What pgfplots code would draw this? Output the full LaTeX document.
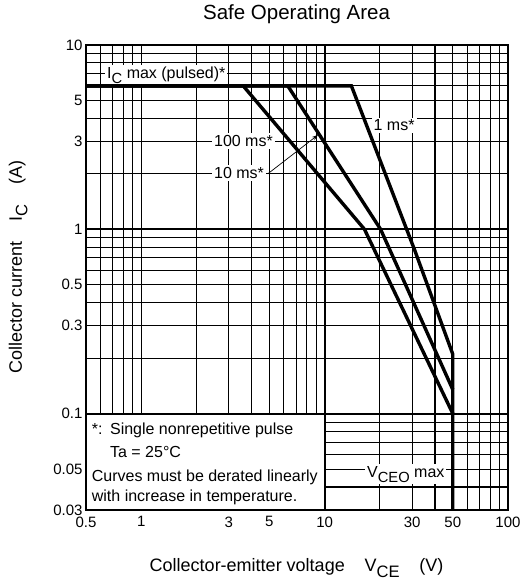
\documentclass[border=0pt]{standalone}
\usepackage{pgfplots}
\pgfplotsset{compat=1.18}
\usepackage{graphicx}
\usepackage{fontspec}
\setmainfont{Liberation Sans}
\usetikzlibrary{arrows.meta}

% lowered, slightly smaller subscript as in the data sheet
\newcommand\sub[1]{\raisebox{-0.3em}{\scalebox{0.92}{#1}}}

\begin{document}
\begin{tikzpicture}
  \begin{axis}[
      at={(0,0)}, anchor=south west,
      scale only axis,
      width=422pt, height=465pt,
      xmode=log, ymode=log,
      xmin=0.5, xmax=100, ymin=0.03, ymax=10,
      xtick={0.5,0.6,0.7,0.8,0.9,1,2,3,4,5,6,7,8,9,10,20,30,40,50,60,70,80,90,100},
      xticklabels={0.5,,,,,1,,3,,5,,,,,10,,30,,50,,,,,100},
      ytick={0.03,0.04,0.05,0.06,0.07,0.08,0.09,0.1,0.2,0.3,0.4,0.5,0.6,0.7,0.8,0.9,1,2,3,4,5,6,7,8,9,10},
      yticklabels={0.03,,0.05,,,,,0.1,,0.3,,0.5,,,,,1,,3,,5,,,,,10},
      extra x ticks={10},
      extra y ticks={0.1,1},
      extra x tick labels={},
      extra y tick labels={},
      extra tick style={grid style={black, line width=1.9pt}},
      major tick length=0pt,
      grid=major,
      grid style={black, line width=1.1pt},
      axis line style={line width=1.9pt},
      ticklabel style={font=\fontsize{15}{17}\selectfont},
      xticklabel style={yshift=-3pt},
      /pgf/number format/assume math mode=true,
      title={Safe Operating Area},
      title style={at={(axis description cs:0.499,1.043)}, anchor=base,
        font=\fontsize{20.5}{24}\selectfont},
      xlabel={Collector-emitter voltage\hspace{1.1em}V\sub{CE}\hspace{1.1em}(V)},
      xlabel style={at={(axis description cs:0.499,-0.1327)}, anchor=base,
        font=\fontsize{18}{20}\selectfont},
      ylabel={Collector current\hspace{1.1em}I\sub{C}\hspace{1.1em}(A)},
      ylabel style={at={(axis description cs:-0.152,0.5226)}, anchor=base,
        rotate=0, font=\fontsize{18}{20}\selectfont},
    ]
    % note box in the lower left corner
    \filldraw[fill=white, draw=black, line width=1.9pt]
      (axis cs:0.5,0.03) rectangle (axis cs:10,0.1);
    \begin{scope}[every node/.style={anchor=base west, inner sep=0pt,
        font=\fontsize{16}{18}\selectfont}]
      \node at (axis cs:0.537,0.0766) {*:};
      \node at (axis cs:0.675,0.0766) {Single nonrepetitive pulse};
      \node at (axis cs:0.675,0.0581) {Ta = 25°C};
      \node at (axis cs:0.537,0.0427) {Curves must be derated linearly};
      \node at (axis cs:0.537,0.0333) {with increase in temperature.};
    \end{scope}

    % curve labels
    \begin{scope}[every node/.style={anchor=base west, fill=white, inner sep=2pt,
        font=\fontsize{16}{18}\selectfont}]
      \node at (axis cs:0.635,6.59) {I\sub{C} max (pulsed)*};
      \node at (axis cs:2.43,2.81) {100 ms*};
      \node at (axis cs:2.43,1.89) {10 ms*};
      \node at (axis cs:18.0,3.42) {1 ms*};
      \node at (axis cs:16.6,0.0451) {V\sub{CEO} max};
    \end{scope}

    % 1 ms
    \addplot[black, line width=3.4pt] coordinates {
      (0.5,6) (14,6) (31,0.77) (50,0.21) (50,0.03)
    };
    % 10 ms
    \addplot[black, line width=3.4pt] coordinates {
      (0.5,6) (6.3,6) (20.2,1) (50,0.135)
    };
    % 100 ms
    \addplot[black, line width=3.4pt] coordinates {
      (0.5,6) (3.6,6) (16.5,1) (50,0.1)
    };

    \draw[-{Stealth[length=6pt,width=4pt]}, line width=0.7pt]
      (axis cs:4.9,2.0) -- (axis cs:9.2,3.25);
  \end{axis}
  \pgfresetboundingbox
  \path[use as bounding box] (-86pt,-70pt) rectangle (441pt,510pt);
\end{tikzpicture}
\end{document}
